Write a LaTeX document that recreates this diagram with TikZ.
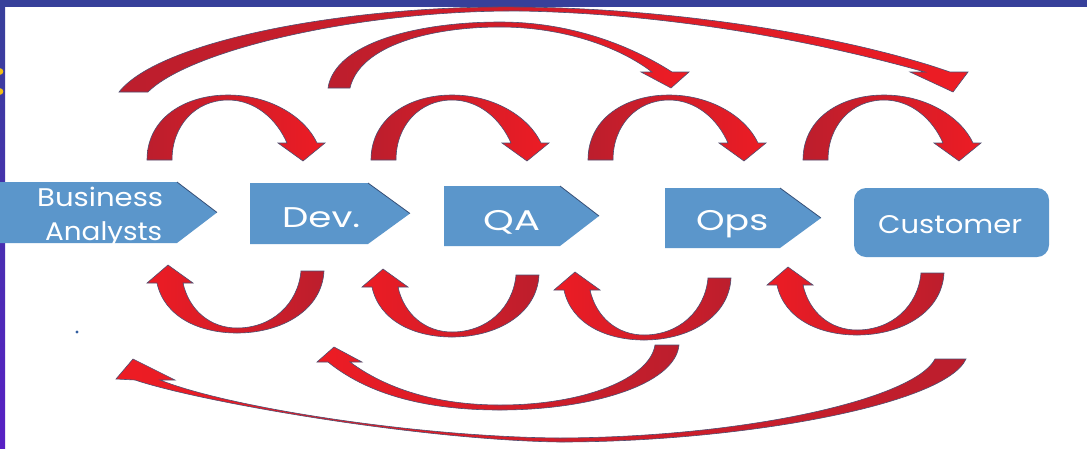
\documentclass[tikz,border=0pt]{standalone}
\usepackage{fontspec}
\setmainfont{Poppins}
\definecolor{dkred}{RGB}{188,30,45}
\definecolor{brred}{RGB}{237,28,36}
\definecolor{edgecol}{RGB}{78,78,112}
\definecolor{boxblue}{RGB}{91,150,203}
\definecolor{boxedge}{RGB}{55,80,120}
\definecolor{bandcol}{RGB}{55,64,154}
\definecolor{stripcol}{RGB}{88,32,196}
\definecolor{dotyellow}{RGB}{240,190,20}
\definecolor{dotblue}{RGB}{50,95,160}
\tikzset{
  toparrow/.style={draw=edgecol, line width=0.6pt, left color=dkred, right color=brred},
  botarrow/.style={draw=edgecol, line width=0.6pt, left color=brred, right color=dkred},
  boxshape/.style={fill=boxblue},
  slantedge/.style={draw=boxedge, line width=0.8pt},
  lbl/.style={text=white, inner sep=0pt, anchor=base west},
}
\newcommand\mylbl[3]{\resizebox{#1pt}{\height}{\fontsize{#2}{#2}\selectfont #3}}
\begin{document}
\begin{tikzpicture}[x=1pt,y=-1pt]
\useasboundingbox (0,0) rectangle (1087,448);
\fill[white] (0,0) rectangle (1087,448);

% frame
\shade[top color=bandcol, bottom color=stripcol] (0,0) rectangle (5,448);
\fill[bandcol] (0,0) rectangle (1087,7);
\fill[dotyellow] (0,71.5) circle (3.3);
\fill[dotyellow] (0,91.5) circle (3.3);
\fill[dotblue] (77,332) circle (1.7);

% boxes
\fill[boxshape] (0,182) -- (177,182) -- (217,212.5) -- (177,243) -- (0,243) -- cycle;
\draw[slantedge] (177,182) -- (217,212.5);
\fill[boxshape] (250,183) -- (368,183) -- (410,213.5) -- (368,244) -- (250,244) -- cycle;
\draw[slantedge] (368,183) -- (410,213.5);
\fill[boxshape] (444,186) -- (560,186) -- (599,216) -- (560,246) -- (444,246) -- cycle;
\draw[slantedge] (560,186) -- (599,216);
\fill[boxshape] (665,188) -- (780,188) -- (821,218) -- (780,248) -- (665,248) -- cycle;
\draw[slantedge] (780,188) -- (821,218);
\fill[boxshape, rounded corners=12pt] (854,188) rectangle (1049,257);

\node[lbl] (ba1) at (37,206) {\mylbl{126}{25.5}{Business}};
\node[lbl] (ba2) at (45,240) {\mylbl{117}{25.5}{Analysts}};
\node[lbl] (dev) at (282,227) {\mylbl{78}{28.5}{Dev.}};
\node[lbl] (qa) at (483,230) {\mylbl{57}{28.5}{QA}};
\node[lbl] (ops) at (696,230) {\mylbl{72}{28.5}{Ops}};
\node[lbl] (cust) at (878,233) {\mylbl{144}{25.5}{Customer}};

% small top arcs
\foreach \dx in {0,224,441,656}{
  \path[toparrow, shift={(\dx,0)}]
    (147,160) .. controls (147,118) and (185,95) .. (228,95)
    .. controls (270,95) and (305,117) .. (317,143)
    -- (325,143) -- (303,161) -- (278,143) -- (287,143)
    .. controls (277,120) and (256,100) .. (228,100)
    .. controls (196,100) and (172,125) .. (172,160) -- cycle;
}
% small bottom arcs
\foreach \dx/\dy in {0/0,215/4,407/7,620/2}{
  \path[botarrow, shift={(\dx,\dy)}]
    (157,283) .. controls (164,316) and (198,333) .. (237,333)
    .. controls (282,333) and (322,310) .. (324,271)
    -- (301,271)
    .. controls (298,304) and (272,328) .. (237,328)
    .. controls (210,328) and (189,310) .. (183,283)
    -- (193,283) -- (168,265) -- (147,283) -- cycle;
}
% long top arc
\path[toparrow]
  (119,92) .. controls (160,40) and (350,5) .. (520,7)
  .. controls (700,9) and (865,42) .. (950,72)
  -- (968,72) -- (953,92) -- (910,72) -- (925,72)
  .. controls (840,48) and (690,14) .. (520,11)
  .. controls (360,10) and (190,50) .. (148,92) -- cycle;
% medium top arc
\path[toparrow]
  (328,88) .. controls (335,42) and (420,22) .. (500,22)
  .. controls (570,22) and (630,45) .. (672,72)
  -- (689,72) -- (671,88) -- (641,72) -- (652,72)
  .. controls (618,46) and (562,27) .. (500,27)
  .. controls (432,27) and (360,45) .. (350,88) -- cycle;
% medium bottom arc
\path[botarrow]
  (328,362) .. controls (365,392) and (420,410) .. (500,410)
  .. controls (590,410) and (675,385) .. (679,345)
  -- (655,345)
  .. controls (650,378) and (585,405) .. (500,405)
  .. controls (435,405) and (385,388) .. (350,362)
  -- (362,362) -- (334,347) -- (317,362) -- cycle;
% long bottom arc
\path[botarrow]
  (135,380) .. controls (200,402) and (420,440) .. (560,442)
  .. controls (740,442) and (945,405) .. (966,359)
  -- (935,359)
  .. controls (915,398) and (750,437) .. (560,438)
  .. controls (420,437) and (230,408) .. (160,380)
  -- (175,380) -- (133,359) -- (116,379) -- cycle;
\end{tikzpicture}
\end{document}
